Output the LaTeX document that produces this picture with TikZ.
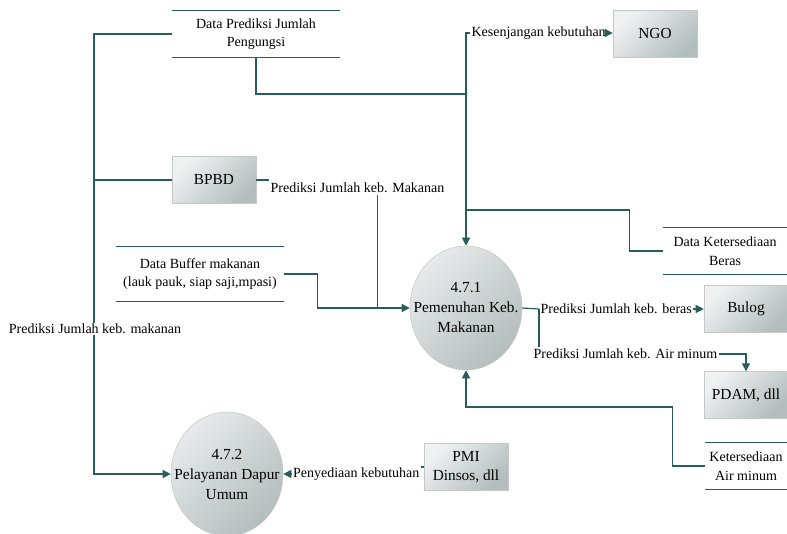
\documentclass[tikz,border=0pt]{standalone}
\usepackage{fontspec}
\setmainfont{Liberation Serif}
\usetikzlibrary{arrows.meta,shapes.geometric}
\definecolor{flowc}{HTML}{2B5C5C}
\definecolor{boxhi}{HTML}{F0F2F2}
\definecolor{boxlo}{HTML}{B4BDBD}
\definecolor{boxedge}{HTML}{C4C8C8}

\begin{document}
\begin{tikzpicture}[x=0.75pt,y=-0.75pt]
		\useasboundingbox (0,0) rectangle (787,534);
		\begin{scope}[every node/.style={rectangle,draw=boxedge,top color=boxhi,bottom color=boxlo,shading angle=45,
				minimum width=63pt,minimum height=35pt,align=center,font=\fontsize{11.5}{14}\selectfont}]
			\node (BPBD) at (214,180) {BPBD};
			\node (NGO) at (655,34) {NGO};
			\node (Bulog) at (746,309) {Bulog};
			\node (PDAM) at (746,395) {PDAM, dll};
			\node (PMI) at (466,467) {PMI\\Dinsos, dll};
		\end{scope}
		\begin{scope}[every node/.style={ellipse,draw=boxedge,top color=boxhi!85!boxlo,bottom color=boxlo,shading angle=45,
				minimum width=84pt,minimum height=93pt,inner xsep=-14pt,inner ysep=-10pt,align=center,font=\fontsize{11.5}{15}\selectfont}]
			\node (P1) at (466,308) {4.7.1\\Pemenuhan Keb.\\Makanan};
			\node (P2) at (227,474) {4.7.2\\Pelayanan Dapur\\Umum};
		\end{scope}
		\begin{scope}[every node/.style={align=center,inner sep=0pt,font=\fontsize{10.5}{14}\selectfont}]
			\node[minimum width=126pt,minimum height=34.5pt] (D1) at (256,34) {Data Prediksi Jumlah\\Pengungsi};
			\node[minimum width=126pt,minimum height=41pt] (D2) at (200,274) {Data Buffer makanan\\(lauk pauk, siap saji,mpasi)};
			\node[minimum width=93pt,minimum height=35pt] (D3) at (725,251) {Data Ketersediaan\\Beras};
			\node[minimum width=61.5pt,minimum height=35pt] (D4) at (746,466) {Ketersediaan\\Air minum};
		\end{scope}
		\foreach \s in {D1,D2,D3,D4}
			\draw[flowc,line width=0.7pt] (\s.north west) -- (\s.north east) (\s.south west) -- (\s.south east);
		\begin{scope}[every node/.style={inner sep=1pt,font=\fontsize{10.5}{13}\selectfont}]
			\node[anchor=west] (kesenjangan) at (470,33) {Kesenjangan kebutuhan};
			\node[anchor=west] (makananBPBD) at (269,188) {Prediksi Jumlah keb. Makanan};
			\node[anchor=west] (beras) at (539,309) {Prediksi Jumlah keb. beras};
			\node[anchor=west] (airminum) at (532,354) {Prediksi Jumlah keb. Air minum};
			\node[anchor=east] (penyediaan) at (421,474) {Penyediaan kebutuhan};
		\end{scope}
	\begin{scope}[>={Triangle[length=6pt,width=6pt]},
			flow/.style={draw=flowc,fill=none,line width=0.9pt}]
			\coordinate (bus) at (94,474);
			\draw[flow,->] (D1.west) -| (bus) -- (P2.west);
			\draw[flow] (BPBD.west) -- (BPBD.west -| bus);
			\node[fill=white,inner sep=1pt,font=\fontsize{10.5}{13}\selectfont] (makananbus) at (95,329) {Prediksi Jumlah keb. makanan};
			\draw[flow] (BPBD.east) -- (BPBD.east -| makananBPBD.west);
			\draw[flow] ([xshift=15pt]makananBPBD.south) -- ([xshift=15pt]makananBPBD.south |- P1.west);
			\draw[flow,->] (D2.east) -- ++(33,0) |- (P1.west);
			\draw[flow] (D1.south) |- (P1.north |- 0,94);
			\draw[flow,->] (kesenjangan.west) -| (P1.north);
			\draw[flow,->] (kesenjangan.east) -- (kesenjangan.east -| NGO.west);
			\draw[flow] (D3.west) -- ++(-33,0) |- (P1.north |- 0,210);
			\draw[flow] (P1.east) -- (beras.west);
			\draw[flow,->] (beras.east) -- (Bulog.west);
			\draw[flow] (beras.west) -- (beras.west |- airminum.north);
			\draw[flow,->] (airminum.east) -| (PDAM.north);
			\draw[flow,->] (D4.west) -- ++(-32,0) -- ++(0,-59) -| (P1.south);
			\draw[flow] (PMI.west) -- (PMI.west -| penyediaan.east);
			\draw[flow,->] (penyediaan.west) -- (P2.east);
		\end{scope}
	\end{tikzpicture}
\end{document}
